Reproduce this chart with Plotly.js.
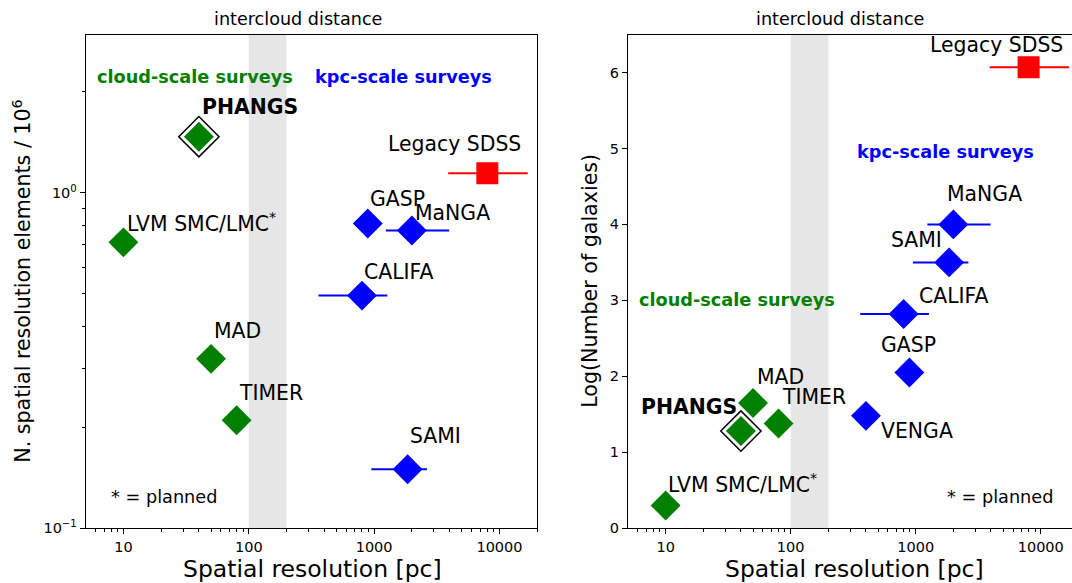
<!DOCTYPE html>
<html><head><meta charset="utf-8">
<script src="https://cdn.plot.ly/plotly-3.0.1.min.js"></script>
<style>html,body{margin:0;padding:0;background:#fff;} #chart{width:1072px;height:583px;}</style>
</head><body><div id="chart"></div>
<script>
// ---------- data: left panel (N. spatial resolution elements / 1e6) ----------
const cloudNames = ['PHANGS', 'LVM SMC/LMC<sup>*</sup>', 'MAD', 'TIMER'];
const cloudRes = [40, 10, 50, 80];
const cloudNres = [1.47, 0.712, 0.32, 0.21];

const kpcNamesL = ['GASP', 'MaNGA', 'CALIFA', 'SAMI'];
const kpcResL = [890, 2000, 800, 1850];
const kpcNresL = [0.81, 0.772, 0.494, 0.150];
const kpcErrPlusL = [0, 1970, 475, 790];
const kpcErrMinusL = [0, 760, 440, 900];

const sdssName = ['Legacy SDSS'];
const sdssRes = [8000];
const sdssNres = [1.144];
const sdssErrPlus = [8800];
const sdssErrMinus = [4100];

// ---------- data: right panel (Log number of galaxies) ----------
const cloudLogGal = [1.28, 0.30, 1.65, 1.38];
const kpcNamesR = ['MaNGA', 'SAMI', 'CALIFA', 'GASP', 'VENGA'];
const kpcResR = [2000, 1850, 800, 890, 400];
const kpcLogGal = [4.0, 3.5, 2.82, 2.05, 1.48];
const kpcErrPlusR = [1970, 790, 475, 0, 0];
const kpcErrMinusR = [760, 900, 440, 0, 0];
const sdssLogGal = [6.07];

// ---------- ticks ----------
const xTickVals = [10, 100, 1000, 10000];
const xTickText = ['10', '100', '1000', '10000'];
const xMinorVals = [6,7,8,9,20,30,40,50,60,70,80,90,200,300,400,500,600,700,800,900,
                    2000,3000,4000,5000,6000,7000,8000,9000,20000];
const yTickValsL = [0.1, 1];
const yTickTextL = ['10<sup>\u22121</sup>', '10<sup>0</sup>'];
const yMinorValsL = [0.2,0.3,0.4,0.5,0.6,0.7,0.8,0.9,2];
const yTickValsR = [0, 1, 2, 3, 4, 5, 6];

// ---------- styling / layout helpers ----------
const GREEN = '#008000', BLUE = '#0000ff', RED = '#ff0000';
const FONT = 'DejaVu Sans, Verdana, sans-serif';
const W = 1072, H = 583;
const LBL = 20.4;

// label offsets in pixels relative to the marker: [dx, dy to baseline (up)]
const cloudOffL = [[1, 22.7], [1.4, 12.7], [1, 21.3], [0, 20]];
const kpcOffL = [[0.7, 17.3], [1.2, 11], [0.4, 16.7], [0.6, 26.3]];
const sdssOffL = [[-101, 22]];
const cloudOffR = [[-102.2, 17.3], [0.4, 15], [1.7, 19.4], [1.8, 19]];
const kpcOffR = [[-8, 23.3], [-59.7, 15.7], [13.5, 11.3], [-30.6, 20.4], [12.9, -21.7]];
const sdssOffR = [[-101, 14.7]];

function dataLabels(names, xs, ys, offs, xa, ya, ylog, boldFirst) {
  return names.map((n, i) => ({
    xref: xa, yref: ya,
    x: Math.log10(xs[i]), y: ylog ? Math.log10(ys[i]) : ys[i],
    text: (boldFirst && i === 0) ? '<b>' + n + '</b>' : n,
    showarrow: false, xanchor: 'left', yanchor: 'middle',
    xshift: offs[i][0], yshift: offs[i][1] + 0.345 * LBL,
    font: {family: FONT, size: LBL, color: '#000'}
  }));
}
function paperText(text, px, baseline, fs, color, bold, anchor) {
  return {
    xref: 'paper', yref: 'paper', x: px / W, y: 1 - (baseline - 0.345 * fs) / H,
    text: bold ? '<b>' + text + '</b>' : text, showarrow: false,
    xanchor: anchor || 'left', yanchor: 'middle',
    font: {family: FONT, size: fs, color: color}
  };
}

function diamondTrace(xs, ys, color, xa, ya, ep, em) {
  const t = {x: xs, y: ys, xaxis: xa, yaxis: ya, mode: 'markers', type: 'scatter',
    marker: {symbol: 'diamond', size: 23, color: color, line: {width: 0}}, hoverinfo: 'skip'};
  if (ep) t.error_x = {type: 'data', symmetric: false, array: ep, arrayminus: em,
    color: color, thickness: 2, width: 0};
  return t;
}

const traces = [
  // left
  {x: [cloudRes[0]], y: [cloudNres[0]], xaxis: 'x', yaxis: 'y', mode: 'markers', type: 'scatter',
   marker: {symbol: 'diamond', size: 31, color: '#fff', line: {width: 1.5, color: '#000'}}, hoverinfo: 'skip'},
  diamondTrace(cloudRes, cloudNres, GREEN, 'x', 'y'),
  diamondTrace(kpcResL, kpcNresL, BLUE, 'x', 'y', kpcErrPlusL, kpcErrMinusL),
  {x: sdssRes, y: sdssNres, xaxis: 'x', yaxis: 'y', mode: 'markers', type: 'scatter',
   marker: {symbol: 'square', size: 22, color: RED}, hoverinfo: 'skip',
   error_x: {type: 'data', symmetric: false, array: sdssErrPlus, arrayminus: sdssErrMinus, color: RED, thickness: 2, width: 0}},
  // right
  {x: [cloudRes[0]], y: [cloudLogGal[0]], xaxis: 'x2', yaxis: 'y2', mode: 'markers', type: 'scatter',
   marker: {symbol: 'diamond', size: 31, color: '#fff', line: {width: 1.5, color: '#000'}}, hoverinfo: 'skip'},
  diamondTrace(cloudRes, cloudLogGal, GREEN, 'x2', 'y2'),
  diamondTrace(kpcResR, kpcLogGal, BLUE, 'x2', 'y2', kpcErrPlusR, kpcErrMinusR),
  {x: sdssRes, y: sdssLogGal, xaxis: 'x2', yaxis: 'y2', mode: 'markers', type: 'scatter',
   marker: {symbol: 'square', size: 22, color: RED}, hoverinfo: 'skip',
   error_x: {type: 'data', symmetric: false, array: sdssErrPlus, arrayminus: sdssErrMinus, color: RED, thickness: 2, width: 0}}
];

const yDom = [(H - 528.3) / H, (H - 34.5) / H];
const common = {
  ticks: 'outside', ticklen: 5, tickwidth: 1, tickcolor: '#000',
  showline: true, linecolor: '#000', linewidth: 1, showgrid: false, zeroline: false,
  tickfont: {family: FONT, size: 14.5, color: '#000'}
};
const minorX = {tickvals: xMinorVals, ticks: 'outside', ticklen: 3, tickwidth: 1, tickcolor: '#000', showgrid: false};

const layout = {
  width: W, height: H, margin: {l: 0, r: 0, t: 0, b: 0},
  paper_bgcolor: '#fff', plot_bgcolor: '#fff', showlegend: false,
  font: {family: FONT, color: '#000'},
  xaxis: Object.assign({}, common, {type: 'log', domain: [85.7 / W, 537.2 / W], range: [Math.log10(5), Math.log10(20000)],
    tickmode: 'array', tickvals: xTickVals, ticktext: xTickText, mirror: true, anchor: 'y', minor: minorX}),
  yaxis: Object.assign({}, common, {type: 'log', domain: yDom, range: [-1, 0.472],
    tickmode: 'array', tickvals: yTickValsL, ticktext: yTickTextL, mirror: true, anchor: 'x',
    minor: {tickvals: yMinorValsL, ticks: 'outside', ticklen: 3, tickwidth: 1, tickcolor: '#000', showgrid: false}}),
  xaxis2: Object.assign({}, common, {type: 'log', domain: [628 / W, 1], range: [Math.log10(5), 4.25],
    tickmode: 'array', tickvals: xTickVals, ticktext: xTickText, mirror: true, anchor: 'y2', minor: minorX}),
  yaxis2: Object.assign({}, common, {domain: yDom, range: [0, 6.5],
    tickmode: 'array', tickvals: yTickValsR, mirror: false, anchor: 'x2'}),
  shapes: [
    {type: 'rect', xref: 'x', yref: 'y domain', x0: 100, x1: 200, y0: 0, y1: 1,
     fillcolor: '#e6e6e6', line: {width: 0}, layer: 'below'},
    {type: 'rect', xref: 'x2', yref: 'y2 domain', x0: 100, x1: 200, y0: 0, y1: 1,
     fillcolor: '#e6e6e6', line: {width: 0}, layer: 'below'}
  ],
  annotations: [].concat(
    dataLabels(cloudNames, cloudRes, cloudNres, cloudOffL, 'x', 'y', true, true),
    dataLabels(kpcNamesL, kpcResL, kpcNresL, kpcOffL, 'x', 'y', true, false),
    dataLabels(sdssName, sdssRes, sdssNres, sdssOffL, 'x', 'y', true, false),
    dataLabels(cloudNames, cloudRes, cloudLogGal, cloudOffR, 'x2', 'y2', false, true),
    dataLabels(kpcNamesR, kpcResR, kpcLogGal, kpcOffR, 'x2', 'y2', false, false),
    dataLabels(sdssName, sdssRes, sdssLogGal, sdssOffR, 'x2', 'y2', false, false),
    [
      paperText('cloud-scale surveys', 95.4, 83.3, 17.7, GREEN, true),
      paperText('kpc-scale surveys', 312.7, 83.3, 17.7, BLUE, true),
      paperText('* = planned', 108.5, 503, 17.7, '#000', false),
      paperText('kpc-scale surveys', 854.6, 158.3, 17.7, BLUE, true),
      paperText('cloud-scale surveys', 637.4, 305.7, 17.7, GREEN, true),
      paperText('* = planned', 944.5, 503.3, 17.7, '#000', false),
      paperText('intercloud distance', 297.5, 25, 17.6, '#000', false, 'center'),
      paperText('intercloud distance', 839.8, 25, 17.6, '#000', false, 'center'),
      paperText('Spatial resolution [pc]', 312, 577.3, 23.5, '#000', false, 'center'),
      paperText('Spatial resolution [pc]', 854, 577.3, 23.5, '#000', false, 'center'),
      {xref: 'paper', yref: 'paper', x: 21.7 / W, y: 1 - 281 / H, textangle: -90,
       text: 'N. spatial resolution elements / 10<sup>6</sup>', showarrow: false,
       xanchor: 'center', yanchor: 'middle', font: {family: FONT, size: 20.6, color: '#000'}},
      {xref: 'paper', yref: 'paper', x: 589.3 / W, y: 1 - 280.5 / H, textangle: -90,
       text: 'Log(Number of galaxies)', showarrow: false,
       xanchor: 'center', yanchor: 'middle', font: {family: FONT, size: 20.6, color: '#000'}}
    ]
  )
};

Plotly.newPlot('chart', traces, layout, {displayModeBar: false, staticPlot: true});
</script>
</body></html>
